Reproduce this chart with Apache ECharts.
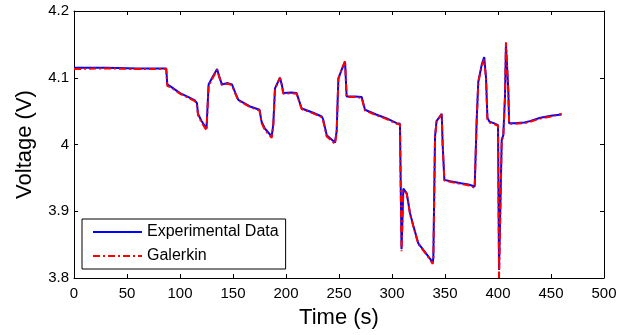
<!DOCTYPE html>
<html>
<head>
<meta charset="utf-8">
<script src="https://cdn.jsdelivr.net/npm/echarts@6/dist/echarts.min.js"></script>
<style>
  html, body { margin: 0; padding: 0; background: #fff; }
  #chart { width: 628px; height: 335px; }
</style>
</head>
<body>
<div id="chart"></div>
<script>
// 时间轴 (s)
const timeExp = [
  0, 30, 60, 87, 88, 92, 100, 108, 114, 116, 117, 120, 125, 126.5,
  127, 131, 135, 137, 139.5, 145, 149, 152, 155, 166, 175, 177, 180, 186.5,
  188, 189.6, 194.3, 196, 197.5, 205, 210, 214.8, 225, 233.7, 235, 238.4, 246.2,
  247.8, 249.4, 252.5, 255.7, 257.2, 265, 271.4, 274.5, 285, 295, 304.4, 307.5,
  309, 310.7, 313.9, 317, 320, 324.8, 329.6, 335.8, 338.4,
  339, 340.6, 342, 346.9, 347.8, 349.4, 355, 365, 372, 378,
  379.9, 381.4, 384.7, 387, 388.7, 390, 392, 396, 400,
  401, 402.5, 403.5, 405, 406.6, 407.5, 408.5, 409.7, 410.5, 415, 425, 430, 440, 450, 460
];

// 实验数据 (V)
const voltExp = [
  4.115, 4.115, 4.114, 4.114, 4.090, 4.086, 4.077, 4.071, 4.066, 4.062, 4.046, 4.036, 4.024, 4.022,
  4.090, 4.102, 4.113, 4.102, 4.090, 4.092, 4.090, 4.078, 4.067, 4.057, 4.052, 4.034, 4.024, 4.012,
  4.030, 4.084, 4.100, 4.090, 4.077, 4.078, 4.077, 4.054, 4.048, 4.042, 4.038, 4.014, 4.003,
  4.020, 4.099, 4.112, 4.124, 4.072, 4.072, 4.071, 4.052, 4.045, 4.039, 4.032, 4.031,
  3.843, 3.934, 3.927, 3.897, 3.879, 3.852, 3.842, 3.829, 3.823,
  3.830, 4.012, 4.035, 4.046, 4.000, 3.947, 3.945, 3.942, 3.940, 3.937,
  4.037, 4.094, 4.120, 4.131, 4.100, 4.040, 4.034, 4.032, 4.029,
  3.812, 3.812, 4.007, 4.014, 4.072, 4.150, 4.148, 4.082, 4.032, 4.032, 4.033, 4.035, 4.040, 4.043, 4.045
];

// Galerkin 模型结果 (V)
const voltGal = [
  4.113, 4.114, 4.113, 4.113, 4.088, 4.085, 4.076, 4.070, 4.065, 4.060, 4.044, 4.034, 4.021, 4.020,
  4.088, 4.100, 4.112, 4.101, 4.089, 4.091, 4.089, 4.077, 4.066, 4.056, 4.051, 4.032, 4.022, 4.010,
  4.028, 4.083, 4.100, 4.089, 4.076, 4.077, 4.076, 4.053, 4.047, 4.041, 4.036, 4.012, 4.001,
  4.018, 4.098, 4.112, 4.125, 4.071, 4.071, 4.070, 4.051, 4.044, 4.038, 4.031, 4.030,
  3.840, 3.932, 3.926, 3.896, 3.878, 3.851, 3.841, 3.828, 3.821,
  3.828, 4.010, 4.034, 4.045, 3.998, 3.946, 3.944, 3.941, 3.939, 3.935,
  4.035, 4.093, 4.118, 4.127, 4.098, 4.038, 4.033, 4.031, 4.028,
  3.800, 3.800, 4.005, 4.013, 4.071, 4.153, 4.151, 4.080, 4.031, 4.031, 4.032, 4.034, 4.039, 4.042, 4.046
];

const xTicks = { min: 0, max: 500, interval: 50 };
const yTicks = { min: 3.8, max: 4.2, interval: 0.1 };

const chart = echarts.init(document.getElementById('chart'), null, { renderer: 'canvas' });

const font = 'Arial, "Liberation Sans", sans-serif';
const pairs = (t, v) => t.map((x, i) => [x, v[i]]);

const axisCommon = {
  axisLine: { onZero: false, lineStyle: { color: '#000', width: 1 } },
  axisTick: { inside: true, length: 4, lineStyle: { color: '#000' } },
  splitLine: { show: false }
};

chart.setOption({
  backgroundColor: '#fff',
  animation: false,
  grid: { left: 74, right: 24, top: 11, bottom: 57 },
  xAxis: [
    {
      type: 'value', ...xTicks, position: 'bottom',
      ...axisCommon,
      axisLabel: { color: '#000', fontFamily: font, fontSize: 15, margin: 8 },
      name: 'Time (s)', nameLocation: 'middle', nameGap: 29,
      nameTextStyle: { color: '#000', fontFamily: font, fontSize: 22 }
    },
    {
      type: 'value', ...xTicks, position: 'top',
      ...axisCommon, axisLabel: { show: false }
    }
  ],
  yAxis: [
    {
      type: 'value', ...yTicks, position: 'left',
      ...axisCommon,
      axisLabel: { color: '#000', fontFamily: font, fontSize: 15, margin: 5 },
      name: 'Voltage (V)', nameLocation: 'middle', nameGap: 38,
      nameTextStyle: { color: '#000', fontFamily: font, fontSize: 22 }
    },
    {
      type: 'value', ...yTicks, position: 'right',
      ...axisCommon, axisLabel: { show: false }
    }
  ],
  legend: {
    orient: 'vertical',
    left: 82, top: 219,
    backgroundColor: '#fff',
    borderColor: '#000', borderWidth: 1, borderRadius: 0,
    padding: [5, 7, 5, 10],
    itemWidth: 49, itemHeight: 12, itemGap: 8,
    itemStyle: { opacity: 0 },
    textStyle: { color: '#000', fontFamily: font, fontSize: 16 },
    data: ['Experimental Data', 'Galerkin']
  },
  series: [
    {
      name: 'Experimental Data', type: 'line',
      data: pairs(timeExp, voltExp),
      symbol: 'none', showSymbol: false,
      lineStyle: { color: '#0000ff', width: 2 },
      itemStyle: { color: '#0000ff' }
    },
    {
      name: 'Galerkin', type: 'line',
      data: pairs(timeExp, voltGal),
      symbol: 'none', showSymbol: false,
      lineStyle: { color: '#ff0000', width: 2, type: [7, 3, 2, 3] },
      itemStyle: { color: '#ff0000' }
    }
  ]
});
</script>
</body>
</html>
